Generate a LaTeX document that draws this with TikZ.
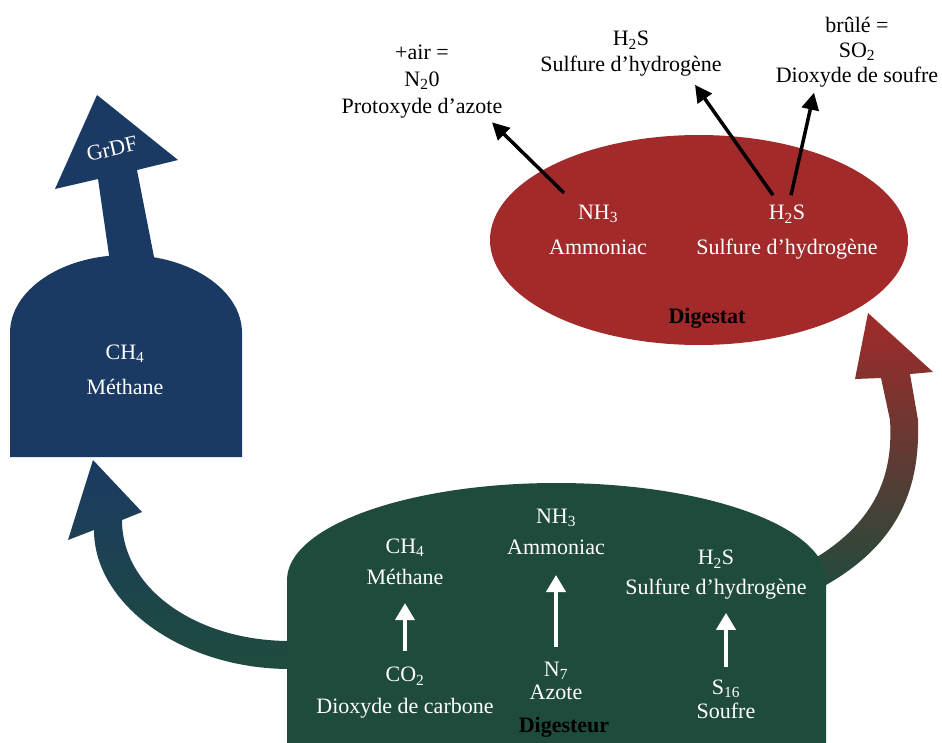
\documentclass[tikz,border=0pt]{standalone}
\usepackage{fontspec}
\setmainfont{Liberation Serif}
\usetikzlibrary{arrows.meta,shapes.geometric}
\definecolor{tankblue}{RGB}{27,58,99}
\definecolor{digestgreen}{RGB}{31,75,61}
\definecolor{digestred}{RGB}{162,42,42}
\tikzset{
  gaslabel/.style={font=\fontsize{22}{26}\selectfont, align=center, inner sep=2pt},
  inlabel/.style={gaslabel, text=white},
  tanktitle/.style={font=\fontsize{22}{26}\selectfont\bfseries, inner sep=2pt},
  blackarrow/.style={line width=3.5pt, -{Triangle[width=17pt,length=17pt]}},
  whitearrow/.style={white, line width=4pt, -{Triangle[width=19pt,length=17pt]}}
}
\begin{document}
\begin{tikzpicture}[x=1pt,y=-1pt]
    \useasboundingbox (0,0) rectangle (942,743);

    \shade[top color=tankblue, bottom color=digestgreen]
        (300,669) -- (290,669) .. controls (182,669) and (94,604) .. (94,530)
        -- (68,540) -- (93,460) -- (142,512) -- (122,520)
        .. controls (122,589) and (197,641) .. (290,641) -- (300,641) -- cycle;
    \shade[top color=digestred, bottom color=digestgreen]
        (800,572) -- (812,560) .. controls (880,520) and (893,470) .. (890,420)
        -- (881,378) -- (855,379) -- (868,313) -- (933,372) -- (910,374)
        -- (918,420) .. controls (920,480) and (905,540) .. (826,585)
        -- (815,595) -- cycle;

    \fill[tankblue]
        (10,457) -- (10,333)
        arc[start angle=180, end angle=360, x radius=116, y radius=78]
        -- (242,457) -- cycle;
    \fill[tankblue]
        (110,262) -- (98,179) -- (55,189) -- (97,95) -- (178,160)
        -- (137,170) -- (155,262) -- cycle;
    \fill[digestgreen]
        (287,743) -- (287,580)
        arc[start angle=180, end angle=360, x radius=269.5, y radius=97]
        -- (826,743) -- cycle;
    \node[ellipse, fill=digestred, minimum width=418pt, minimum height=210pt,
        inner sep=0pt] (digestat) at (699,240) {};

    \node[inlabel, rotate=13] (grdf) at (112,149) {GrDF};
    \node[inlabel] (ch4t) at (125,370) {CH\textsubscript{4}\\[9pt]Méthane};

    \node[inlabel] (nhd) at (598,230) {NH\textsubscript{3}\\[9pt]Ammoniac};
    \node[inlabel] (hsd) at (787,232.5)
        {H\textsubscript{2}S\\[9pt]Sulfure d’hydrogène};
    \node[tanktitle] (digestattitle) at (707,318) {Digestat};

    \node[gaslabel] (nox) at (422,81.5)
        {+air =\\[1pt]N\textsubscript{2}0\\[1pt]Protoxyde d’azote};
    \node[gaslabel] (hs) at (631,54) {H\textsubscript{2}S\\Sulfure d’hydrogène};
    \node[gaslabel] (so) at (857,52.5)
        {brûlé =\\[-1pt]SO\textsubscript{2}\\[-1pt]Dioxyde de soufre};

    \node[inlabel] (ch4g) at (405,562) {CH\textsubscript{4}\\[5pt]Méthane};
    \node[inlabel] (co2) at (405,693)
        {CO\textsubscript{2}\\[6pt]Dioxyde de carbone};
    \node[inlabel] (nh3g) at (556,532) {NH\textsubscript{3}\\[5pt]Ammoniac};
    \node[inlabel] (n7) at (556,681) {N\textsubscript{7}\\[-3pt]Azote};
    \node[inlabel] (h2sg) at (716,575)
        {H\textsubscript{2}S\\[4pt]Sulfure d’hydrogène};
    \node[inlabel] (s16) at (726,699.5) {S\textsubscript{16}\\[-2pt]Soufre};
    \node[tanktitle] (digesteur) at (564,727) {Digesteur};

    \draw[blackarrow]
        ([xshift=-34pt,yshift=10pt]nhd.north) -- ([xshift=70pt,yshift=-2pt]nox.south);
    \draw[blackarrow]
        ([xshift=-14pt,yshift=8pt]hsd.north) -- ([xshift=64pt,yshift=-6pt]hs.south);
    \draw[blackarrow]
        ([xshift=4pt,yshift=8pt]hsd.north) -- ([xshift=-43pt,yshift=-3pt]so.south);

    \draw[whitearrow]
        ([yshift=14pt]co2.north) -- ([yshift=-16pt]ch4g.south);
    \draw[whitearrow]
        ([yshift=13pt]n7.north) -- ([yshift=-18pt]nh3g.south);
    \draw[whitearrow]
        ([yshift=11pt]s16.north) -- ([yshift=-11pt]s16.north |- h2sg.south);
\end{tikzpicture}
\end{document}
